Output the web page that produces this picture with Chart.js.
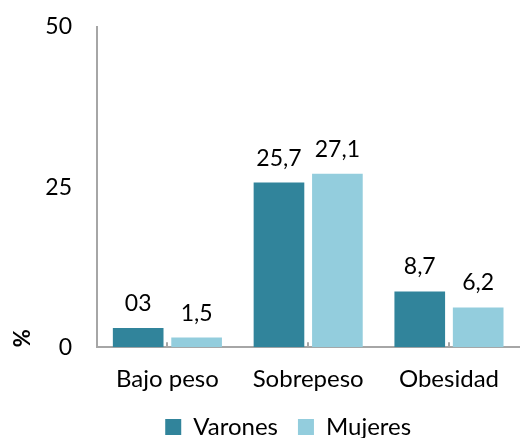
<!DOCTYPE html>
<html>
<head>
<meta charset="utf-8">
<script src="https://cdn.jsdelivr.net/npm/chart.js@4"></script>
<style>
  html, body { margin: 0; padding: 0; background: #fff; }
  #wrap { width: 522px; height: 438px; }
</style>
</head>
<body>
<div id="wrap"><canvas id="grafico"></canvas></div>
<script>
const categorias = ['Bajo peso', 'Sobrepeso', 'Obesidad'];
const varones = [3, 25.7, 8.7];
const mujeres = [1.5, 27.1, 6.2];
const etiquetasVarones = ['03', '25,7', '8,7'];
const etiquetasMujeres = ['1,5', '27,1', '6,2'];
const ticksY = [0, 25, 50];

const fuente = 'Lato, "Liberation Sans", sans-serif';

// etiquetas encima de cada barra + leyenda corrida a la izquierda
const etiquetasBarras = {
    id: 'etiquetasBarras',
    afterLayout(chart) {
        chart.legend.left -= 20;
        chart.legend.right -= 20;
    },
    afterDatasetsDraw(chart) {
        const ctx = chart.ctx;
        ctx.save();
        ctx.font = '23px ' + fuente;
        ctx.fillStyle = '#000';
        ctx.textAlign = 'center';
        ctx.textBaseline = 'bottom';
        chart.data.datasets.forEach((ds, i) => {
            const meta = chart.getDatasetMeta(i);
            meta.data.forEach((barra, j) => {
                ctx.fillText(ds.etiquetas[j], barra.x, barra.y - 13);
            });
        });
        ctx.restore();
    }
};

const data = {
    labels: categorias,
    datasets: [{
        label: 'Varones',
        data: varones,
        etiquetas: etiquetasVarones,
        backgroundColor: '#31849b',
        categoryPercentage: 0.83,
        barPercentage: 0.867
    }, {
        label: 'Mujeres',
        data: mujeres,
        etiquetas: etiquetasMujeres,
        backgroundColor: '#93cddd',
        categoryPercentage: 0.83,
        barPercentage: 0.867
    }]
};

const config = {
    type: 'bar',
    data: data,
    plugins: [etiquetasBarras],
    options: {
        responsive: true,
        maintainAspectRatio: false,
        animation: false,
        layout: { padding: { top: 1, right: 0, left: 0, bottom: 0 } },
        plugins: {
            legend: {
                position: 'bottom',
                fullSize: false,
                labels: {
                    font: { family: fuente, size: 24 },
                    color: '#000',
                    boxWidth: 16,
                    boxHeight: 16,
                    padding: 20
                }
            },
            tooltip: { enabled: false }
        },
        scales: {
            y: {
                min: 0,
                max: 50,
                afterBuildTicks(axis) {
                    axis.ticks = ticksY.map(v => ({ value: v }));
                },
                afterFit(axis) {
                    axis.width = 97;
                    axis.paddingTop = 27;
                    axis.paddingBottom = 0;
                },
                ticks: {
                    font: { family: fuente, size: 23 },
                    color: '#000',
                    padding: 25
                },
                grid: { display: false, drawTicks: false },
                border: { color: '#a6a6a6', width: 2 },
                title: {
                    display: true,
                    text: '%',
                    align: 'start',
                    font: { family: fuente, size: 22, weight: 'bold' },
                    color: '#000',
                    padding: { top: 10, bottom: 0 }
                }
            },
            x: {
                afterFit(axis) {
                    axis.height -= 22;
                },
                ticks: {
                    font: { family: fuente, size: 24 },
                    color: '#000',
                    padding: 23
                },
                grid: {
                    drawOnChartArea: false,
                    offset: false,
                    tickLength: -5,
                    color: '#a6a6a6',
                    lineWidth: 2
                },
                border: { color: '#a6a6a6', width: 2 }
            }
        }
    }
};

const grafico = new Chart(document.getElementById('grafico'), config);

// leyenda un poco más abajo
const fitLeyenda = grafico.legend.fit;
grafico.legend.fit = function () {
    fitLeyenda.call(this);
    this.height -= 11;
};
grafico.update();
</script>
</body>
</html>
